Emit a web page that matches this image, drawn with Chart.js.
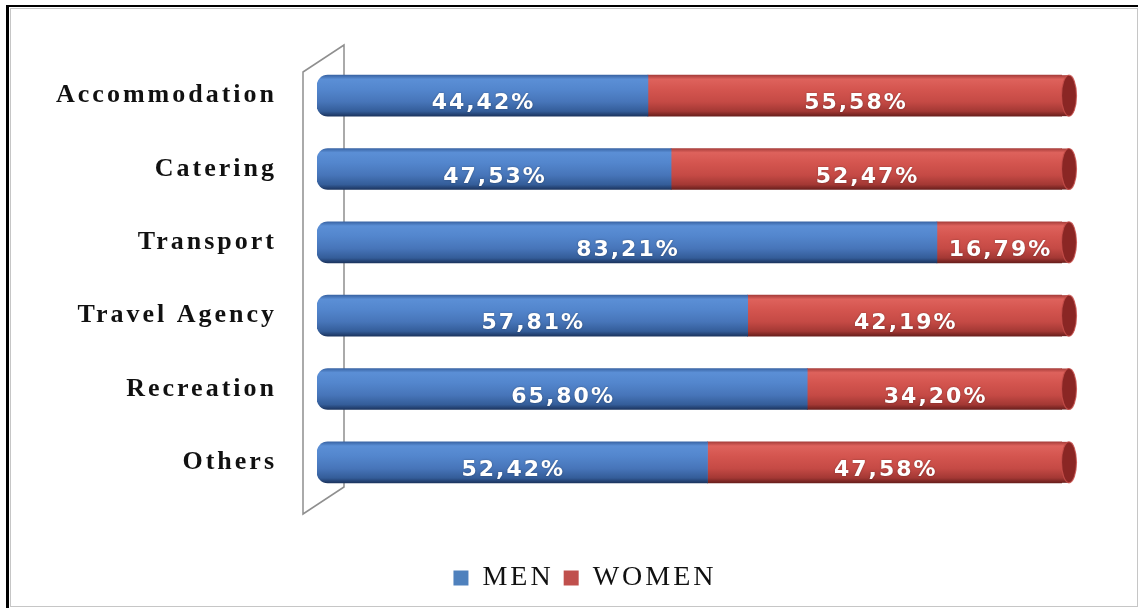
<!DOCTYPE html>
<html>
<head>
<meta charset="utf-8">
<title>Employment by sector and gender</title>
<script src="https://cdn.jsdelivr.net/npm/chart.js@4.4.1/dist/chart.umd.min.js"></script>
<style>
  html, body { margin: 0; padding: 0; background: #fff; }
  #page { position: relative; width: 1138px; height: 608px; overflow: hidden; }
  .outer { position: absolute; left: 6px; top: 5px; right: 0; bottom: 0; border-left: 3px solid #000; border-top: 2px solid #000; }
  .inner { position: absolute; left: 10px; top: 8px; right: 0; bottom: 1px; border: 1px solid #c6c6c6; }
  #chart { position: absolute; left: 0; top: 0; }
</style>
</head>
<body>
<div id="page">
  <div class="outer"></div>
  <div class="inner"></div>
  <canvas id="chart" width="1138" height="608"></canvas>
</div>
<script>
// sectors, top to bottom
const sectors = ['Accommodation', 'Catering', 'Transport', 'Travel Agency', 'Recreation', 'Others'];
const seriesNames = ['MEN', 'WOMEN'];
const menShare = [44.42, 47.53, 83.21, 57.81, 65.80, 52.42];
const womenShare = [55.58, 52.47, 16.79, 42.19, 34.20, 47.58];

const BAR_H = 41;
const legendColors = ['#4f81bd', '#c0504d'];

// vertical gradient so each bar reads like a tube
function tube(stops, flat) {
  return (c) => {
    const chart = c.chart;
    if (!chart.chartArea || c.type !== 'data') return flat;
    const mid = chart.scales.y.getPixelForValue(c.dataIndex);
    const g = chart.ctx.createLinearGradient(0, mid - BAR_H / 2, 0, mid + BAR_H / 2);
    stops.forEach(([p, col]) => g.addColorStop(p, col));
    return g;
  };
}

const blueStops = [[0, '#3a65a5'], [0.1, '#5b8fd6'], [0.35, '#5386cd'], [0.65, '#4775b9'], [0.88, '#345d99'], [1, '#1c3560']];
const redStops = [[0, '#a83e3b'], [0.1, '#de625c'], [0.35, '#d4554f'], [0.65, '#c54a45'], [0.88, '#a33834'], [1, '#6a1f1d']];

const fmtPct = (v) => v.toFixed(2).replace('.', ',') + '%';

// thin 3D side wall behind the bars
const wallPlugin = {
  id: 'wall',
  beforeDatasetsDraw(chart) {
    const { ctx, chartArea: a } = chart;
    const lx = a.left - 14, rx = a.left + 27;
    ctx.save();
    ctx.beginPath();
    ctx.moveTo(lx, a.top + 13);
    ctx.lineTo(rx, a.top - 14);
    ctx.lineTo(rx, a.bottom - 12);
    ctx.lineTo(lx, a.bottom + 15);
    ctx.closePath();
    ctx.fillStyle = '#ffffff';
    ctx.fill();
    ctx.strokeStyle = '#8f8f8f';
    ctx.lineWidth = 1.5;
    ctx.stroke();
    ctx.restore();
  }
};

// end caps of the tubes + the percentage labels
const tubeLabels = {
  id: 'tubeLabels',
  afterDatasetsDraw(chart) {
    const ctx = chart.ctx;
    const last = chart.getDatasetMeta(1);
    ctx.save();
    ctx.letterSpacing = '0px';
    last.data.forEach((el) => {
      const h = el.height, cx = el.x + 7;
      const g = ctx.createLinearGradient(0, el.y - h / 2, 0, el.y + h / 2);
      redStops.forEach(([p, col]) => g.addColorStop(p, col));
      ctx.fillStyle = g;
      ctx.fillRect(el.x - 0.5, el.y - h / 2, 7.5, h);
      ctx.beginPath();
      ctx.ellipse(cx, el.y, 7.5, h / 2, 0, 0, Math.PI * 2);
      ctx.fillStyle = '#8a2624';
      ctx.fill();
      ctx.strokeStyle = 'rgba(200,80,76,0.8)';
      ctx.lineWidth = 1.2;
      ctx.stroke();
    });

    ctx.font = 'bold 22px "DejaVu Sans", Verdana, sans-serif';
    ctx.letterSpacing = '2px';
    ctx.textAlign = 'center';
    ctx.textBaseline = 'middle';
    ctx.fillStyle = '#ffffff';
    ctx.shadowColor = 'rgba(0,0,0,0.35)';
    ctx.shadowBlur = 2;
    chart.data.datasets.forEach((ds, di) => {
      chart.getDatasetMeta(di).data.forEach((el, i) => {
        const x = (el.base + el.x) / 2 + 1;
        ctx.fillText(fmtPct(ds.data[i]), x, el.y + 8);
      });
    });
    ctx.restore();
  }
};

// spaced-out lettering for axis and legend text
const spacing = {
  id: 'spacing',
  beforeDraw(chart) { chart.ctx.letterSpacing = '3px'; }
};

// legend sits a little right of the canvas centre
const legendNudge = {
  id: 'legendNudge',
  afterLayout(chart) { chart.legend.left += 72; }
};

new Chart(document.getElementById('chart'), {
  type: 'bar',
  data: {
    labels: sectors,
    datasets: [
      {
        label: seriesNames[0],
        data: menShare,
        backgroundColor: tube(blueStops, legendColors[0]),
        borderWidth: 0,
        borderSkipped: false,
        borderRadius: { topLeft: 11, bottomLeft: 11, topRight: 0, bottomRight: 0 },
        barThickness: BAR_H
      },
      {
        label: seriesNames[1],
        data: womenShare,
        backgroundColor: tube(redStops, legendColors[1]),
        borderWidth: 0,
        borderSkipped: false,
        borderRadius: 0,
        barThickness: BAR_H
      }
    ]
  },
  options: {
    indexAxis: 'y',
    responsive: false,
    animation: false,
    layout: { padding: { left: 12, right: 76, top: 59, bottom: 6 } },
    scales: {
      x: {
        stacked: true,
        min: 0,
        max: 100,
        grid: { display: false },
        border: { display: false },
        ticks: { display: false },
        afterFit: (s) => { s.height = 55; }
      },
      y: {
        stacked: true,
        grid: { display: false },
        border: { display: false },
        ticks: {
          color: '#111',
          padding: 32,
          font: { family: '"Liberation Serif", "Times New Roman", serif', size: 26, weight: 'bold' }
        },
        afterFit: (s) => { s.width = 305; }
      }
    },
    plugins: {
      legend: {
        position: 'bottom',
        labels: {
          color: '#111',
          boxWidth: 15,
          boxHeight: 15,
          padding: 10,
          font: { family: '"Liberation Serif", "Times New Roman", serif', size: 28 },
          generateLabels: (chart) => Chart.defaults.plugins.legend.labels.generateLabels(chart)
            .map((item, i) => ({ ...item, fillStyle: legendColors[i], strokeStyle: legendColors[i], lineWidth: 0 }))
        }
      },
      tooltip: { enabled: false }
    }
  },
  plugins: [spacing, legendNudge, wallPlugin, tubeLabels]
});
</script>
</body>
</html>
